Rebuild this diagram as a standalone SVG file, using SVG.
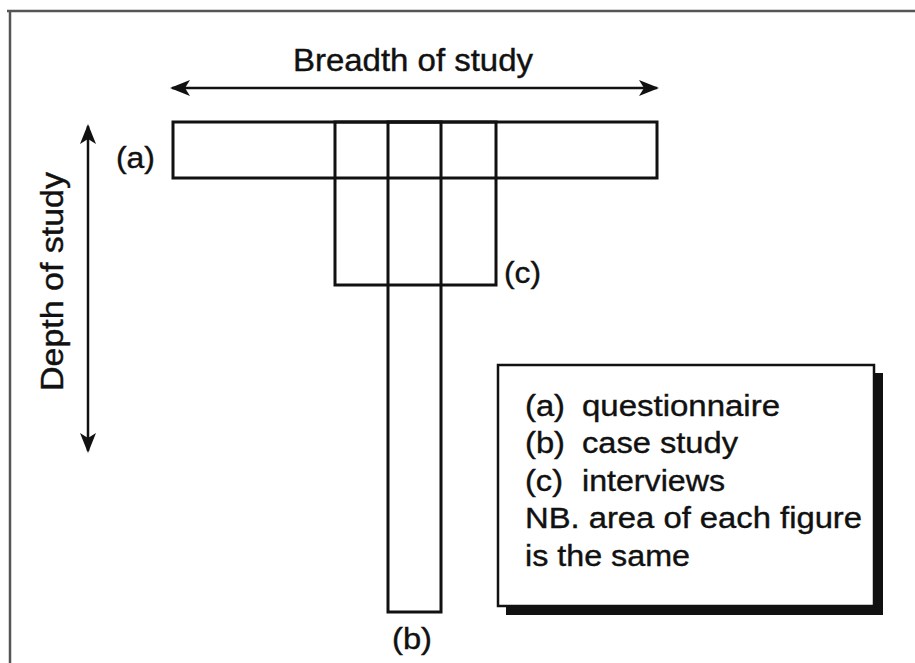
<svg xmlns="http://www.w3.org/2000/svg" width="915" height="663" viewBox="0 0 915 663">
  <style>
    text { font-family: "Liberation Sans", Arial, Helvetica, sans-serif; fill: #111; stroke: #111; stroke-width: 0.4; }
    .fig { fill: none; stroke: #111; stroke-width: 3; }
    .lbl { font-size: 30px; }
    .leg { font-size: 30px; }
    .axis { stroke: #111; stroke-width: 2.5; fill: none; }
  </style>
  <defs>
    <marker id="ah" viewBox="0 0 20 16" refX="18" refY="8" markerWidth="20" markerHeight="16" markerUnits="userSpaceOnUse" orient="auto-start-reverse">
      <path d="M0,0 L20,8 L0,16 L5,8 Z" fill="#111"/>
    </marker>
  </defs>
  <rect x="0" y="0" width="915" height="663" fill="#fff"/>
  <g id="frame">
    <path d="M7,11 H915 M10,11 V663" stroke="#555" stroke-width="2.5" fill="none"/>
  </g>
  <g id="connectors">
    <line class="axis" x1="172" y1="88" x2="657" y2="88" marker-start="url(#ah)" marker-end="url(#ah)"/>
    <line class="axis" x1="88" y1="126" x2="88" y2="451" marker-start="url(#ah)" marker-end="url(#ah)"/>
  </g>
  <g id="axis-labels">
    <text x="293" y="71" font-size="31" textLength="240" lengthAdjust="spacingAndGlyphs">Breadth of study</text>
    <text transform="translate(63,391) rotate(-90)" x="0" y="0" font-size="31" textLength="219" lengthAdjust="spacingAndGlyphs">Depth of study</text>
  </g>
  <g id="node-a">
    <rect class="fig" x="173" y="122" width="484" height="56"/>
    <text class="lbl" x="116" y="168" textLength="39" lengthAdjust="spacingAndGlyphs">(a)</text>
  </g>
  <g id="node-c">
    <rect class="fig" x="335" y="122" width="161" height="163"/>
    <text class="lbl" x="504" y="283" textLength="37" lengthAdjust="spacingAndGlyphs">(c)</text>
  </g>
  <g id="node-b">
    <rect class="fig" x="388" y="122" width="53" height="490"/>
    <text class="lbl" x="392" y="649" textLength="40" lengthAdjust="spacingAndGlyphs">(b)</text>
  </g>
  <g id="legend">
    <rect x="506" y="373" width="377" height="242" fill="#111"/>
    <rect x="498" y="365" width="376" height="241" fill="#fff" stroke="#111" stroke-width="2.5"/>
    <text class="leg" y="416"><tspan x="525" textLength="40" lengthAdjust="spacingAndGlyphs">(a)</tspan><tspan x="582" textLength="198" lengthAdjust="spacingAndGlyphs">questionnaire</tspan></text>
    <text class="leg" y="453"><tspan x="525" textLength="40" lengthAdjust="spacingAndGlyphs">(b)</tspan><tspan x="582" textLength="156" lengthAdjust="spacingAndGlyphs">case study</tspan></text>
    <text class="leg" y="491"><tspan x="525" textLength="38" lengthAdjust="spacingAndGlyphs">(c)</tspan><tspan x="582" textLength="143" lengthAdjust="spacingAndGlyphs">interviews</tspan></text>
    <text class="leg" x="525" y="528" textLength="337" lengthAdjust="spacingAndGlyphs">NB. area of each figure</text>
    <text class="leg" x="525" y="566" textLength="165" lengthAdjust="spacingAndGlyphs">is the same</text>
  </g>
</svg>
